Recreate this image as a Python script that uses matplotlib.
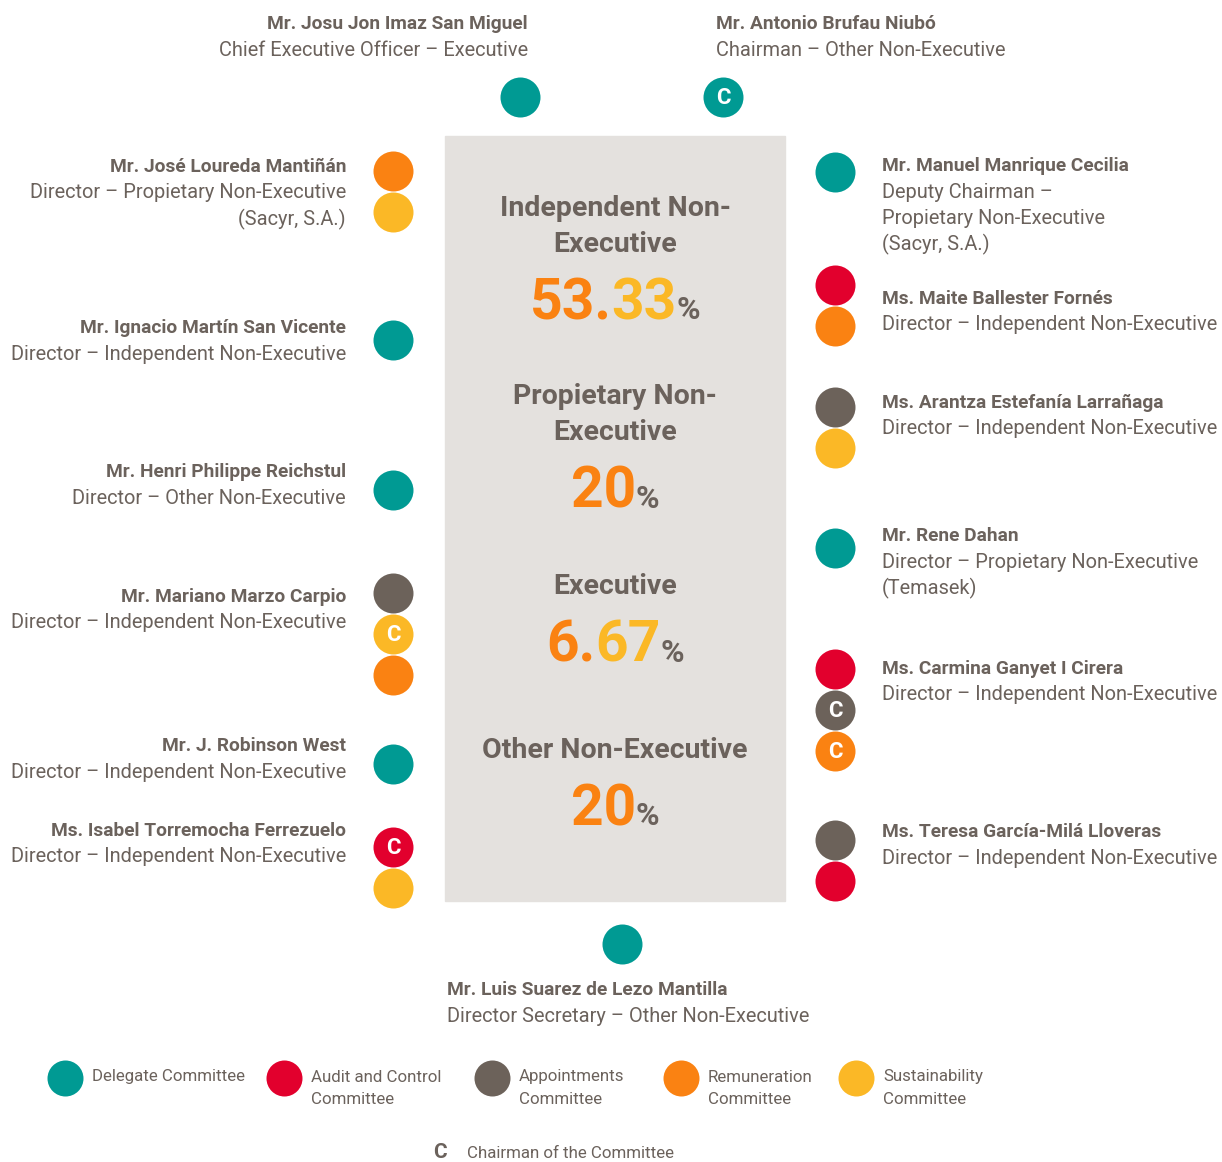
import matplotlib
matplotlib.use("Agg")
import matplotlib.pyplot as plt
from matplotlib.patches import Rectangle

# committee colours
COLORS = {"del": "#009A93", "aud": "#E2002D", "app": "#6C625A",
          "rem": "#FA8212", "sus": "#FBB826"}
TEXT = "#6B625C"
BOX = "#E4E1DE"

# board data
top_names = ["Mr. Josu Jon Imaz San Miguel", "Mr. Antonio Brufau Niubó"]
top_roles = ["Chief Executive Officer – Executive", "Chairman – Other Non-Executive"]
top_comms = [["del"], ["del"]]
top_chair = [[], ["del"]]

left_names = ["Mr. José Loureda Mantiñán", "Mr. Ignacio Martín San Vicente",
              "Mr. Henri Philippe Reichstul", "Mr. Mariano Marzo Carpio",
              "Mr. J. Robinson West", "Ms. Isabel Torremocha Ferrezuelo"]
left_roles = ["Director – Propietary Non-Executive\n(Sacyr, S.A.)",
              "Director – Independent Non-Executive",
              "Director – Other Non-Executive",
              "Director – Independent Non-Executive",
              "Director – Independent Non-Executive",
              "Director – Independent Non-Executive"]
left_comms = [["rem", "sus"], ["del"], ["del"], ["app", "sus", "rem"], ["del"], ["aud", "sus"]]
left_chair = [[], [], [], ["sus"], [], ["aud"]]

right_names = ["Mr. Manuel Manrique Cecilia", "Ms. Maite Ballester Fornés",
               "Ms. Arantza Estefanía Larrañaga", "Mr. Rene Dahan",
               "Ms. Carmina Ganyet I Cirera", "Ms. Teresa García-Milá Lloveras"]
right_roles = ["Deputy Chairman –\nPropietary Non-Executive\n(Sacyr, S.A.)",
               "Director – Independent Non-Executive",
               "Director – Independent Non-Executive",
               "Director – Propietary Non-Executive\n(Temasek)",
               "Director – Independent Non-Executive",
               "Director – Independent Non-Executive"]
right_comms = [["del"], ["aud", "rem"], ["app", "sus"], ["del"], ["aud", "app", "rem"], ["app", "aud"]]
right_chair = [[], [], [], [], ["app", "rem"], []]

bottom_name = "Mr. Luis Suarez de Lezo Mantilla"
bottom_role = "Director Secretary – Other Non-Executive"

categories = ["Independent Non-\nExecutive", "Propietary Non-\nExecutive", "Executive", "Other Non-Executive"]
shares = [("53.", "33"), ("20", ""), ("6.", "67"), ("20", "")]

legend_keys = ["del", "aud", "app", "rem", "sus"]
legend_labels = ["Delegate Committee", "Audit and Control\nCommittee", "Appointments\nCommittee",
                 "Remuneration\nCommittee", "Sustainability\nCommittee"]

# layout (pixels)
left_name_y = [167, 328, 472, 597, 746, 831]
left_dot_y = [171, 340, 490, 593, 764, 847]
right_name_y = [166, 299, 403, 536, 669, 832]
right_dot_y = [172, 285, 407, 548, 669, 840]
cat_y = [209, 397, 587, 750]
num_y = [300, 489, 643, 806]
legend_x = [65, 284, 492, 681, 856]

FAM = ["Roboto", "DejaVu Sans"]
NAME_FONT = dict(family=FAM, fontweight="bold", fontsize=13.8, color=TEXT)
ROLE_FONT = dict(family=FAM, fontsize=14.4, color=TEXT)
LINE = 26
DOT = 40
DOT_S = (DOT * 72 / 100) ** 2

fig = plt.figure(figsize=(12.22, 11.62), dpi=100)
ax = fig.add_axes([0, 0, 1, 1])
ax.set_xlim(0, 1222)
ax.set_ylim(1162, 0)
ax.axis("off")

ax.add_patch(Rectangle((445, 136), 340, 765, color=BOX, zorder=0))


def dots(x, y0, comms, chairs, step=41):
    for k, c in enumerate(comms):
        y = y0 + k * step
        ax.scatter([x], [y], s=DOT_S, color=COLORS[c], linewidths=0, zorder=3)
        if c in chairs:
            ax.text(x, y + 1, "C", ha="center", va="center", color="white",
                    fontsize=16, fontweight="bold", family=FAM, zorder=4)


def person(x, y, name, role, ha):
    ax.text(x, y, name, ha=ha, va="center", **NAME_FONT)
    for k, line in enumerate(role.split("\n")):
        ax.text(x, y + LINE * (k + 1), line, ha=ha, va="center", **ROLE_FONT)


# top
person(528, 24, top_names[0], top_roles[0], "right")
person(716, 24, top_names[1], top_roles[1], "left")
dots(520, 97, top_comms[0], top_chair[0])
dots(723, 97, top_comms[1], top_chair[1])

# left and right columns
for i in range(len(left_names)):
    person(346, left_name_y[i], left_names[i], left_roles[i], "right")
    dots(393, left_dot_y[i], left_comms[i], left_chair[i])
for i in range(len(right_names)):
    person(882, right_name_y[i], right_names[i], right_roles[i], "left")
    dots(835, right_dot_y[i], right_comms[i], right_chair[i])

# bottom
dots(622, 944, ["del"], [])
person(447, 990, bottom_name, bottom_role, "left")

# centre box
fig.canvas.draw()
renderer = fig.canvas.get_renderer()
for i, cat in enumerate(categories):
    for k, line in enumerate(cat.split("\n")):
        ax.text(615, cat_y[i] + 35 * k, line, ha="center", va="center", color=TEXT,
                fontsize=20.5, fontweight="bold", family=FAM)
    a, b = shares[i]
    pieces = [(a, COLORS["rem"], 41), (b, COLORS["sus"], 41), ("%", TEXT, 23)]
    texts = []
    x = 0
    for s, col, fs in pieces:
        if not s:
            continue
        t = ax.text(x, num_y[i] + 19, s, ha="left", va="baseline", color=col,
                    fontsize=fs, fontweight="bold", family=FAM)
        bb = t.get_window_extent(renderer)
        texts.append((t, bb.width))
        x += bb.width
    start = 615 - x / 2
    for t, w in texts:
        t.set_x(start)
        start += w

# legend
for k in range(len(legend_keys)):
    ax.scatter([legend_x[k]], [1078], s=(36 * 0.72) ** 2, color=COLORS[legend_keys[k]],
               linewidths=0)
    for j, line in enumerate(legend_labels[k].split("\n")):
        ax.text(legend_x[k] + 27, 1077 + 22 * j, line, ha="left", va="center",
                color=TEXT, fontsize=12.2, family=FAM)
ax.text(440, 1153, "C", ha="center", va="center", color=TEXT, fontsize=15,
        fontweight="bold", family=FAM)
ax.text(467, 1153, "Chairman of the Committee", ha="left", va="center", color=TEXT,
        fontsize=12.2, family=FAM)

fig.savefig("out.png", dpi=100, facecolor="white")
